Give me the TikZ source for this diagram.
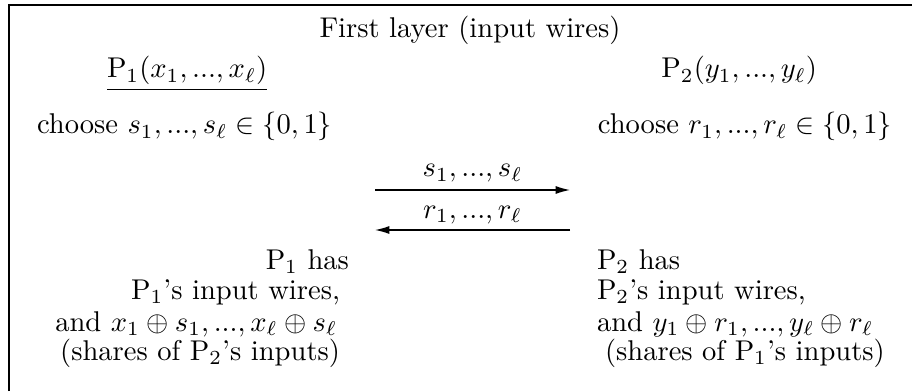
\documentclass[tikz,border=0pt]{standalone}
\usetikzlibrary{arrows.meta}
\begin{document}
\begin{tikzpicture}[x=0.35pt,y=-0.35pt,
  txt/.style={inner sep=0pt,outer sep=0pt},
  msg/.style={-{Latex[length=5pt,width=2.8pt]},line width=0.45pt}]
\useasboundingbox (0,0) rectangle (912,391);
\draw[line width=0.6pt] (9,391) -- (9,5) -- (912,5);
\node[txt,anchor=base] (title) at (470,38) {First layer (input wires)};
\node[txt,anchor=base west] (p1) at (107,78) {\underline{P$_1(x_1,...,x_\ell)$}};
\node[txt,anchor=base east] (p2) at (817,78) {P$_2(y_1,...,y_\ell)$};
\node[txt,anchor=base west] (c1) at (37,134) {choose $s_1,...,s_\ell\in\{0,1\}$};
\node[txt,anchor=base east] (c2) at (892,134) {choose $r_1,...,r_\ell\in\{0,1\}$};
\coordinate (a1) at (375,190);
\coordinate (b1) at (570,190);
\coordinate (a2) at (375,230);
\coordinate (b2) at (570,230);
\draw[msg] (a1) -- (b1);
\draw[msg] (b2) -- (a2);
\node[txt,anchor=base] (ls) at (472.5,177) {$s_1,...,s_\ell$};
\node[txt,anchor=base] (lr) at (472.5,218) {$r_1,...,r_\ell$};
\node[txt,anchor=base east] (h1) at (349,269) {P$_1$ has};
\node[txt,anchor=base east] (w1) at (340,299) {P$_1$'s input wires,};
\node[txt,anchor=base east] (x1) at (337,331) {and $x_1\oplus s_1,...,x_\ell\oplus s_\ell$};
\node[txt,anchor=base east] (sh1) at (340,360) {(shares of P$_2$'s inputs)};
\node[txt,anchor=base west] (h2) at (597,269) {P$_2$ has};
\node[txt,anchor=base west] (w2) at (597,299) {P$_2$'s input wires,};
\node[txt,anchor=base west] (y2) at (597,331) {and $y_1\oplus r_1,...,y_\ell\oplus r_\ell$};
\node[txt,anchor=base west] (sh2) at (605,360) {(shares of P$_1$'s inputs)};
\end{tikzpicture}
\end{document}
